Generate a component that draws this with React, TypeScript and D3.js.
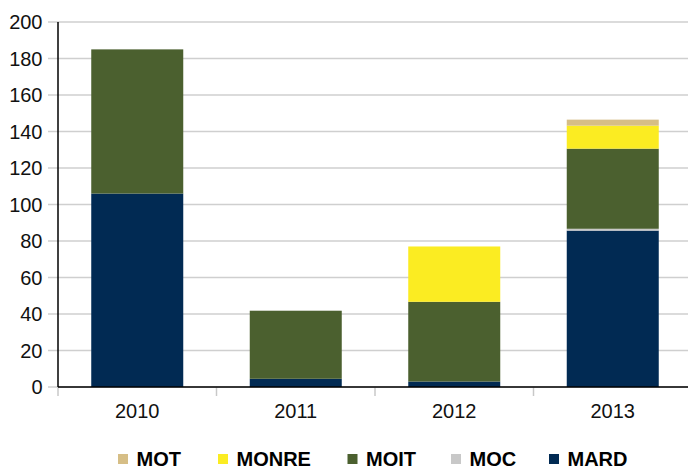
import React, { useEffect, useRef } from 'react';
import * as d3 from 'd3';

const years = ['2010', '2011', '2012', '2013'];
const MARD = [106, 4.5, 3, 85.7];
const MOC = [0, 0, 0, 1];
const MOIT = [79, 37.3, 43.7, 43.9];
const MONRE = [0, 0, 30.3, 12.6];
const MOT = [0, 0, 0, 3.3];

const seriesNames = ['MARD', 'MOC', 'MOIT', 'MONRE', 'MOT'];
const legendOrder = ['MOT', 'MONRE', 'MOIT', 'MOC', 'MARD'];
const yTicks = [0, 20, 40, 60, 80, 100, 120, 140, 160, 180, 200];

const colors: Record<string, string> = {
  MARD: '#012a53',
  MOC: '#c8c8c8',
  MOIT: '#4b602f',
  MONRE: '#fbec22',
  MOT: '#d6be86',
};

export default function App() {
  const svgRef = useRef<SVGSVGElement>(null);

  useEffect(() => {
    const w = 688;
    const h = 468;
    const left = 58;
    const right = 692;
    const top = 22;
    const bottom = 387;

    const svg = d3.select(svgRef.current);
    svg.selectAll('*').remove();
    svg.attr('width', w).attr('height', h).style('display', 'block');

    const rows = years.map((y, i) => ({
      year: y,
      MARD: MARD[i],
      MOC: MOC[i],
      MOIT: MOIT[i],
      MONRE: MONRE[i],
      MOT: MOT[i],
    }));

    const x = d3.scaleBand().domain(years).range([left, right]);
    const y = d3.scaleLinear().domain([0, 200]).range([bottom, top]);
    const barW = 92;

    // grid
    svg.append('g')
      .selectAll('line')
      .data(yTicks)
      .join('line')
      .attr('x1', 48)
      .attr('x2', w)
      .attr('y1', d => y(d))
      .attr('y2', d => y(d))
      .attr('stroke', '#cfcfcf')
      .attr('stroke-width', 1.5);

    // y labels
    svg.append('g')
      .selectAll('text')
      .data(yTicks)
      .join('text')
      .attr('x', 42.5)
      .attr('y', d => y(d))
      .attr('dy', '0.36em')
      .attr('text-anchor', 'end')
      .attr('font-family', 'Liberation Sans, Arial, sans-serif')
      .attr('font-size', 20)
      .attr('fill', '#111')
      .text(d => d);

    // bars
    const stack = d3.stack<any>().keys(seriesNames)(rows);
    svg.append('g')
      .selectAll('g')
      .data(stack)
      .join('g')
      .attr('fill', d => colors[d.key])
      .selectAll('rect')
      .data(d => d)
      .join('rect')
      .attr('x', d => (x(d.data.year) as number) + (x.bandwidth() - barW) / 2)
      .attr('width', barW)
      .attr('y', d => y(d[1]))
      .attr('height', d => y(d[0]) - y(d[1]));

    // category ticks
    const bounds = years.map(yr => x(yr) as number);
    svg.append('g')
      .selectAll('line')
      .data(bounds)
      .join('line')
      .attr('x1', d => d)
      .attr('x2', d => d)
      .attr('y1', bottom)
      .attr('y2', 396)
      .attr('stroke', '#c8c8c8')
      .attr('stroke-width', 1.5);

    // axes lines
    svg.append('line')
      .attr('x1', left).attr('x2', left)
      .attr('y1', top).attr('y2', bottom)
      .attr('stroke', '#000').attr('stroke-width', 1.5);
    svg.append('line')
      .attr('x1', left).attr('x2', w)
      .attr('y1', bottom).attr('y2', bottom)
      .attr('stroke', '#000').attr('stroke-width', 1.5);

    // x labels
    svg.append('g')
      .selectAll('text')
      .data(years)
      .join('text')
      .attr('x', d => (x(d) as number) + x.bandwidth() / 2)
      .attr('y', 418)
      .attr('text-anchor', 'middle')
      .attr('font-family', 'Liberation Sans, Arial, sans-serif')
      .attr('font-size', 20)
      .attr('fill', '#111')
      .text(d => d);

    // legend
    const legendX: Record<string, number> = { MOT: 118, MONRE: 218, MOIT: 347.5, MOC: 451, MARD: 549 };
    const lg = svg.append('g')
      .selectAll('g')
      .data(legendOrder)
      .join('g')
      .attr('transform', d => `translate(${legendX[d]},0)`);
    lg.append('rect')
      .attr('y', 454)
      .attr('width', 10)
      .attr('height', 10)
      .attr('fill', d => colors[d]);
    lg.append('text')
      .attr('x', 18.5)
      .attr('y', 466)
      .attr('font-family', 'Liberation Sans, Arial, sans-serif')
      .attr('font-size', 20)
      .attr('font-weight', 'bold')
      .attr('fill', '#000')
      .text(d => d);
  }, []);

  return (
    <div style={{ position: 'fixed', left: 0, top: 0, width: 688, height: 468, overflow: 'hidden', background: '#fff' }}>
      <svg ref={svgRef}></svg>
    </div>
  );
}
